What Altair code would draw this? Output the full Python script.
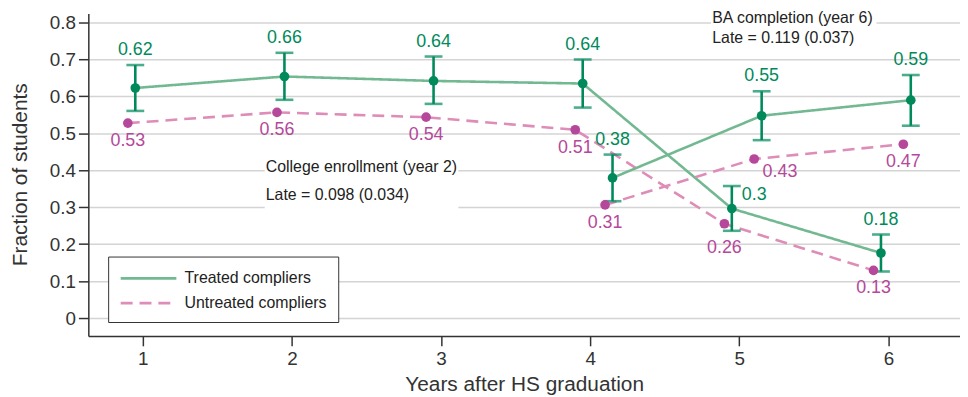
import altair as alt
import pandas as pd

FONT = "Liberation Sans"

# ---------------- data ----------------
series_names = ["Treated compliers", "Untreated compliers"]

enroll_years = [1, 2, 3, 4, 5, 6]
treated_enroll = [0.622, 0.653, 0.641, 0.634, 0.296, 0.176]
treated_enroll_lo = [0.560, 0.590, 0.579, 0.569, 0.236, 0.126]
treated_enroll_hi = [0.684, 0.717, 0.707, 0.699, 0.357, 0.226]
treated_enroll_lbl = ["0.62", "0.66", "0.64", "0.64", "0.3", "0.18"]
untreated_enroll = [0.527, 0.556, 0.543, 0.509, 0.255, 0.129]
untreated_enroll_lbl = ["0.53", "0.56", "0.54", "0.51", "0.26", "0.13"]

ba_years = [4, 5, 6]
treated_ba = [0.379, 0.547, 0.589]
treated_ba_lo = [0.316, 0.481, 0.520]
treated_ba_hi = [0.442, 0.613, 0.657]
treated_ba_lbl = ["0.38", "0.55", "0.59"]
untreated_ba = [0.306, 0.430, 0.470]
untreated_ba_lbl = ["0.31", "0.43", "0.47"]

y_ticks = [0, 0.1, 0.2, 0.3, 0.4, 0.5, 0.6, 0.7, 0.8]
x_ticks = [1, 2, 3, 4, 5, 6]

ann_lines = ["College enrollment (year 2)", "Late = 0.098 (0.034)",
             "BA completion (year 6)", "Late = 0.119 (0.037)"]
ann_x = [1.825, 1.825, 4.819, 4.819]
ann_y = [0.408, 0.333, 0.811, 0.757]
box_x0 = [1.818, 4.81]
box_x1 = [3.116, 5.92]
box_y0 = [0.29, 0.735]
box_y1 = [0.43, 0.845]

# horizontal dodge of each group/series
dodge = {("enroll", 0): -0.05, ("enroll", 1): -0.10, ("ba", 0): 0.15, ("ba", 1): 0.10}

rows = []
for i, yr in enumerate(enroll_years):
    rows.append(dict(group="enroll", series=series_names[0], x=yr + dodge[("enroll", 0)],
                     y=treated_enroll[i], lo=treated_enroll_lo[i], hi=treated_enroll_hi[i],
                     label=treated_enroll_lbl[i]))
    rows.append(dict(group="enroll", series=series_names[1], x=yr + dodge[("enroll", 1)],
                     y=untreated_enroll[i], lo=None, hi=None, label=untreated_enroll_lbl[i]))
for i, yr in enumerate(ba_years):
    rows.append(dict(group="ba", series=series_names[0], x=yr + dodge[("ba", 0)],
                     y=treated_ba[i], lo=treated_ba_lo[i], hi=treated_ba_hi[i],
                     label=treated_ba_lbl[i]))
    rows.append(dict(group="ba", series=series_names[1], x=yr + dodge[("ba", 1)],
                     y=untreated_ba[i], lo=None, hi=None, label=untreated_ba_lbl[i]))
df = pd.DataFrame(rows)
treated = df[df.series == series_names[0]]
untreated = df[df.series == series_names[1]]

ann = pd.DataFrame(dict(x=ann_x, y=ann_y, text=ann_lines))
boxes = pd.DataFrame(dict(x=box_x0, x2=box_x1, y=box_y0, y2=box_y1))

# ---------------- styles ----------------
GREEN = "#008a5c"
GREEN_LINE = "#72b891"
PINK = "#b5489a"
PINK_LINE = "#de8cb8"
AXC = "#333333"

xs = alt.Scale(domain=[0.635, 6.48], nice=False, zero=False)
ys = alt.Scale(domain=[-0.048, 0.823], nice=False, zero=False)
x_axis = alt.Axis(values=x_ticks, format="d", title="Years after HS graduation", grid=False,
                  tickSize=10, labelPadding=4, titlePadding=5)
y_axis = alt.Axis(values=y_ticks, format="~g", title="Fraction of students", grid=True,
                  tickSize=10, labelPadding=3, titleX=-68, titleY=162, titleBaseline="middle",
                  titleAlign="center", titleAngle=270)

X = alt.X("x:Q", scale=xs, axis=x_axis)
Y = alt.Y("y:Q", scale=ys, axis=y_axis)

base = alt.Chart(df)

box_layer = alt.Chart(boxes).mark_rect(color="white").encode(
    x=X, x2="x2:Q", y=Y, y2="y2:Q")

# long horizontal stroke symbol: spans from -r to +5r around the symbol centre
leg = alt.Legend(title=None, orient="none", legendX=20, legendY=245, direction="vertical",
                 symbolType="M-1,0H5", symbolSize=350, symbolStrokeWidth=2.6,
                 labelFontSize=16, labelFont=FONT, labelColor="#222", labelOffset=44,
                 strokeColor=AXC, fillColor="white", padding=11, rowPadding=6)

lines = base.mark_line(strokeWidth=2.6).encode(
    x=X, y=Y,
    color=alt.Color("series:N", scale=alt.Scale(domain=series_names, range=[GREEN_LINE, PINK_LINE]), legend=leg),
    strokeDash=alt.StrokeDash("series:N", scale=alt.Scale(domain=series_names, range=[[1, 0], [12, 7]]), legend=leg),
    detail="group:N",
)

tb = alt.Chart(treated)
err = tb.mark_rule(color=GREEN, strokeWidth=2.6).encode(x=X, y=alt.Y("lo:Q", scale=ys, axis=y_axis), y2="hi:Q")
cap_lo = tb.mark_tick(color=GREEN, orient="horizontal", size=18, thickness=2.6).encode(
    x=X, y=alt.Y("lo:Q", scale=ys, axis=y_axis))
cap_hi = tb.mark_tick(color=GREEN, orient="horizontal", size=18, thickness=2.6).encode(
    x=X, y=alt.Y("hi:Q", scale=ys, axis=y_axis))
pts_t = tb.mark_circle(color=GREEN, size=95, opacity=1).encode(x=X, y=Y)
pts_u = alt.Chart(untreated).mark_circle(color=PINK, size=95, opacity=1).encode(x=X, y=Y)

lab_font = dict(font=FONT, fontSize=18)
lbl_t = tb.transform_filter(alt.datum.label != "0.3").mark_text(
    color=GREEN, baseline="middle", dy=-15, **lab_font).encode(
    x=X, y=alt.Y("hi:Q", scale=ys, axis=y_axis), text="label:N")
lbl_t2 = tb.transform_filter(alt.datum.label == "0.3").mark_text(
    color=GREEN, baseline="middle", align="left", dx=10, dy=9, **lab_font).encode(
    x=X, y=alt.Y("hi:Q", scale=ys, axis=y_axis), text="label:N")

ub = alt.Chart(untreated)
lbl_u = ub.transform_filter((alt.datum.label != "0.43") & (alt.datum.label != "0.26")).mark_text(
    color=PINK, baseline="middle", dy=18, **lab_font).encode(x=X, y=Y, text="label:N")
lbl_u2 = ub.transform_filter(alt.datum.label == "0.43").mark_text(
    color=PINK, baseline="middle", dx=26, dy=13, **lab_font).encode(x=X, y=Y, text="label:N")
lbl_u3 = ub.transform_filter(alt.datum.label == "0.26").mark_text(
    color=PINK, baseline="middle", dy=24, **lab_font).encode(x=X, y=Y, text="label:N")

ann_layer = alt.Chart(ann).mark_text(align="left", baseline="middle", font=FONT, fontSize=16,
                                     color="#222").encode(x=X, y=Y, text="text:N")

chart = alt.layer(
    box_layer, lines, err, cap_lo, cap_hi, pts_u, pts_t,
    lbl_t, lbl_t2, lbl_u, lbl_u2, lbl_u3, ann_layer,
).properties(
    width=879, height=325,
    autosize=alt.AutoSizeParams(type="none"),
    padding={"left": 81, "top": 4, "right": 0, "bottom": 62},
).configure_view(stroke=None).configure_axis(
    labelFont=FONT, titleFont=FONT, labelFontSize=19, titleFontSize=21,
    labelColor=AXC, titleColor=AXC, titleFontWeight="normal",
    domainColor=AXC, tickColor=AXC, domainWidth=1.5, tickWidth=1.5,
    gridColor="#d4d4d4", gridWidth=1.5,
)

chart.save("out.html", embed_options={"renderer": "svg", "actions": False})
